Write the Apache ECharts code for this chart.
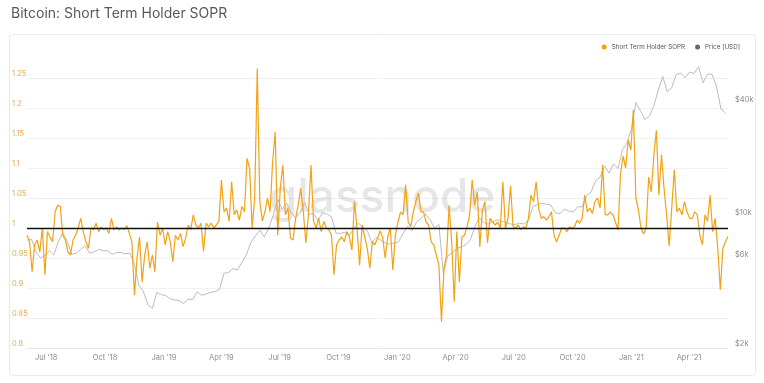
<!DOCTYPE html>
<html>
<head>
<meta charset="utf-8">
<script src="https://cdn.jsdelivr.net/npm/echarts@6/dist/echarts.min.js"></script>
<style>
html,body{margin:0;padding:0;background:#fff;}
#chart{width:764px;height:383px;}
</style>
</head>
<body>
<div id="chart"></div>
<script>
// ---- data ----
const soprStart = '2018-06-01';
const soprStepDays = 4;
const soprValues = [
0.988,0.977,0.927,0.972,0.98,0.96,1.0,0.922,0.994,0.985,
0.977,1.027,1.038,1.036,0.988,0.98,0.96,0.955,0.98,0.988,
1.0,1.016,0.994,0.977,0.966,1.0,0.997,1.008,0.994,1.002,
0.997,1.0,0.991,1.016,0.997,1.002,0.997,1.0,0.997,1.004,
0.991,0.977,0.888,0.95,0.985,0.91,0.955,0.977,0.933,0.955,
0.927,1.01,0.988,1.0,0.972,0.994,0.977,0.944,0.988,0.98,
0.991,0.969,0.983,1.005,0.997,1.022,1.005,1.0,1.008,0.961,
1.008,1.002,1.008,1.0,1.005,1.011,1.08,1.027,1.033,1.011,
1.077,1.022,1.03,1.013,1.036,1.027,1.116,1.1,1.0,1.05,
1.266,1.044,1.012,1.027,1.05,1.027,1.11,1.16,0.988,1.066,
1.105,1.022,1.033,0.983,0.98,1.016,1.038,1.066,1.027,0.975,
1.022,1.105,1.011,1.0,1.016,0.994,1.011,1.0,0.997,0.988,
0.922,0.972,0.98,0.985,0.977,0.994,0.985,0.963,1.044,1.0,
0.938,1.005,0.985,0.966,0.933,0.977,0.972,0.983,0.995,0.985,
0.95,0.985,1.0,0.93,0.988,1.01,1.027,1.022,1.072,1.01,
1.002,1.027,1.044,1.058,1.027,1.027,1.01,1.005,0.977,0.972,
0.955,0.938,0.844,0.933,0.955,1.038,0.977,0.877,0.994,0.91,
0.985,0.988,1.002,1.022,1.08,1.038,1.06,0.969,1.03,1.044,
0.975,1.016,1.01,1.005,1.01,1.0,1.077,1.0,1.016,1.07,
1.002,1.0,1.005,0.997,1.002,1.0,1.016,1.055,1.044,1.077,
1.033,1.016,1.019,1.013,1.019,1.027,0.988,0.977,0.988,1.0,
1.0,0.994,1.002,1.0,1.002,1.013,1.008,1.016,1.055,1.027,
1.033,1.024,1.044,1.05,1.033,1.105,1.022,1.022,1.027,1.022,
1.01,0.997,1.09,1.12,1.1,1.147,1.13,1.197,1.05,1.03,
1.0,0.99,1.0,1.085,1.06,1.12,1.163,1.055,1.122,1.066,
1.022,0.97,1.033,1.097,1.027,1.033,1.022,1.044,1.027,1.016,
1.016,1.027,1.022,0.988,0.972,1.022,1.011,1.055,0.994,1.016,
0.966,0.897,0.966,0.977,0.986
];
const priceStart = '2018-06-01';
const priceStepDays = 7;
const priceValues = [
// 2018
7500,7600,6500,6050,6200,6600,6250,7400,8200,7400,6300,6400,6700,7000,6400,6500,
6700,6600,6600,6300,6450,6450,6350,6400,5600,4300,4000,3400,3250,3950,3850,
// 2019
3800,3650,3600,3580,3450,3650,3620,3980,3820,3880,3950,4000,4100,5000,5050,5300,
5200,5700,6300,7300,7900,8500,7800,8700,10200,12400,11000,11800,10500,9900,10500,
11900,10300,10400,9600,10500,10350,10000,8200,8150,8300,7950,8650,9250,8800,8450,
7300,7750,7500,7250,7150,7250,
// 2020
7350,8150,8900,8450,9350,9800,10350,9700,8700,9100,5000,6200,6400,6800,6900,7100,
7500,8800,9900,9300,9150,9400,9650,9450,9350,9150,9100,9250,9150,9550,11350,11600,
11800,11650,11550,10500,10400,10950,10750,10600,11300,11300,12950,13550,15550,16300,
18650,17100,19150,18050,22800,24700,
// 2021
29400,40600,36800,33000,34300,38900,47300,55900,46300,48700,57300,58300,55100,
59000,58000,63000,51700,57700,57300,49700,37500,35700
];
const xTickDates = ['2018-07-01','2018-10-01','2019-01-01','2019-04-01','2019-07-01','2019-10-01',
  '2020-01-01','2020-04-01','2020-07-01','2020-10-01','2021-01-01','2021-04-01'];
const xTickLabels = ["Jul '18","Oct '18","Jan '19","Apr '19","Jul '19","Oct '19",
  "Jan '20","Apr '20","Jul '20","Oct '20","Jan '21","Apr '21"];
const soprTicks = [0.8,0.85,0.9,0.95,1,1.05,1.1,1.15,1.2,1.25];
const priceTicks = [2000,6000,10000,40000];
const priceTickLabels = ['$2k','$6k','$10k','$40k'];
const xRange = ['2018-06-01','2021-06-01'];
const soprRange = [0.8,1.28];
const priceRange = [2000,68400];
const soprBaseline = 1;

// ---- build ----
const DAY = 86400000;
const t = s => Date.parse(s + 'T00:00:00Z');
const soprData = soprValues.map((v,i) => [t(soprStart) + i*soprStepDays*DAY, v]);
const priceData = priceValues.map((v,i) => [t(priceStart) + i*priceStepDays*DAY, v]);
const xTickValues = xTickDates.map(t);
const priceTickLogs = priceTicks.map(v => Math.log10(v));
function nearestLabel(v, vals, labels){
  let best = 0, bd = Infinity;
  vals.forEach((x,i)=>{ const d = Math.abs(x - v); if (d < bd){bd = d; best = i;} });
  return labels[best];
}

const chart = echarts.init(document.getElementById('chart'), null, {renderer:'canvas'});
const FONT = 'Inter, "Noto Sans", sans-serif';
chart.setOption({
  animation:false,
  backgroundColor:'#fff',
  textStyle:{fontFamily:FONT},
  title:{
    text:'Bitcoin: Short Term Holder SOPR',
    left:6, top:2,
    textStyle:{fontSize:14, fontWeight:'normal', color:'#5a5a5a', fontFamily:FONT}
  },
  graphic:[
    {type:'rect', z:-10, silent:true,
     shape:{x:9.5, y:34.5, width:746, height:341, r:3},
     style:{fill:'#fff', stroke:'#e9e9e9', lineWidth:1}},
    {type:'text', z:1, silent:true,
     style:{text:'glassnode', x:382, y:198, textAlign:'center', textVerticalAlign:'middle',
            font:'500 46px Inter, "Noto Sans", sans-serif', fill:'rgba(130,130,130,0.2)'}}
  ],
  legend:{
    right:19, top:39, icon:'circle', itemWidth:5, itemHeight:5, itemGap:10,
    textStyle:{fontSize:6.3, color:'#555'},
    data:['Short Term Holder SOPR','Price [USD]']
  },
  grid:{left:27, right:36, top:60, bottom:35, containLabel:false},
  xAxis:{
    type:'value',
    min:t(xRange[0]), max:t(xRange[1]),
    axisLine:{lineStyle:{color:'#e6e6e6'}},
    axisTick:{show:false, customValues:xTickValues},
    splitLine:{show:false},
    axisLabel:{
      customValues:xTickValues,
      formatter:v => nearestLabel(v, xTickValues, xTickLabels),
      color:'#8c8c8c', fontSize:7.5, margin:6, hideOverlap:false
    }
  },
  yAxis:[
    {
      type:'value', min:soprRange[0], max:soprRange[1], position:'left',
      axisLine:{show:false},
      axisTick:{show:false, customValues:soprTicks},
      splitLine:{show:true, lineStyle:{color:'#f1f1f1', width:1}},
      axisLabel:{
        customValues:soprTicks,
        formatter:v => nearestLabel(v, soprTicks, soprTicks.map(String)),
        align:'left', verticalAlign:'bottom', margin:15, color:'#e4ab58', fontSize:7.5
      }
    },
    {
      type:'log', logBase:10, min:priceRange[0], max:priceRange[1], position:'right',
      show:false
    },
    {
      type:'value', min:Math.log10(priceRange[0]), max:Math.log10(priceRange[1]), position:'right',
      axisLine:{show:false},
      axisTick:{show:false, customValues:priceTickLogs},
      splitLine:{show:false},
      axisLabel:{
        customValues:priceTickLogs,
        formatter:v => nearestLabel(v, priceTickLogs, priceTickLabels),
        align:'left', verticalAlign:'bottom', margin:7, color:'#8c8c8c', fontSize:7.5
      }
    }
  ],
  series:[
    {
      name:'Price [USD]', type:'line', yAxisIndex:1, data:priceData,
      showSymbol:false, symbol:'none', z:2,
      itemStyle:{color:'#666'},
      lineStyle:{color:'#b4b4b4', width:0.9}
    },
    {
      name:'Short Term Holder SOPR', type:'line', yAxisIndex:0, data:soprData,
      showSymbol:false, symbol:'none', z:3,
      itemStyle:{color:'#f5a20d'},
      lineStyle:{color:'#f2a214', width:1.2},
      markLine:{
        silent:true, symbol:'none', label:{show:false},
        lineStyle:{color:'#111', width:1.4, type:'solid'},
        data:[{yAxis:soprBaseline}]
      }
    }
  ]
});
</script>
</body>
</html>
